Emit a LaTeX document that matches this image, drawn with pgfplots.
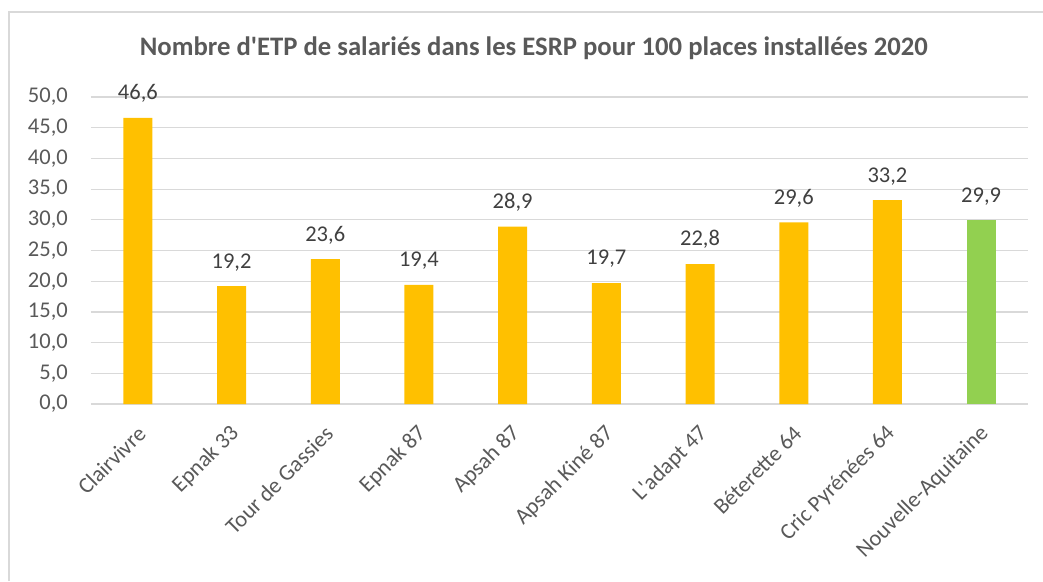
\documentclass[border=0pt]{standalone}
\usepackage{pgfplots}
\pgfplotsset{compat=1.18}
\usetikzlibrary{calc}
\usepackage{fontspec}
\setmainfont{Carlito}
\definecolor{barY}{HTML}{FFC000}
\definecolor{barG}{HTML}{92D050}
\definecolor{txt}{HTML}{595959}
\definecolor{lbl}{HTML}{404040}
\definecolor{grd}{HTML}{D9D9D9}
\begin{document}
\begin{tikzpicture}
  \begin{axis}[
    name=ax, at={(0pt,0pt)}, anchor=origin,
    scale only axis, width=937pt, height=307pt,
    xmin=-0.5, xmax=9.5, ymin=0, ymax=50,
    ybar, bar width=29pt,
    axis x line*=bottom, axis y line*=left,
    x axis line style={grd, line width=1.5pt, -},
    y axis line style={draw=none},
    major tick length=0pt,
    ytick={0,5,...,50},
    ymajorgrids, grid style={grd, line width=1.2pt},
    xtick={0,...,9},
    xticklabels={Clairvivre, Epnak 33, Tour de Gassies, Epnak 87, Apsah 87,
      Apsah Kiné 87, L\textquotesingle adapt 47, Béterette 64, Cric Pyrénées 64, Nouvelle-Aquitaine},
    /pgf/number format/.cd, fixed, fixed zerofill, precision=1, use comma, assume math mode=true,
    /pgfplots/.cd,
    yticklabel style={txt, font=\fontsize{22.5}{26}\selectfont, anchor=east, inner sep=0pt, xshift=-23pt},
    xticklabel style={txt, font=\fontsize{22.5}{26}\selectfont, inner sep=0pt, xshift=4pt, yshift=-26pt, rotate=45, anchor=east},
    nodes near coords,
    every node near coord/.append style={lbl, font=\fontsize{22.5}{26}\selectfont, inner sep=0pt, yshift=15pt},
  ]
    \addplot[fill=barY, draw=none, bar shift=0pt] coordinates {
      (0,46.6) (1,19.2) (2,23.6) (3,19.4) (4,28.9)
      (5,19.7) (6,22.8) (7,29.6) (8,33.2)
    };
    \addplot[fill=barG, draw=none, bar shift=0pt] coordinates {
      (9,29.9)
    };
  \end{axis}
  % everything else placed relative to the data origin (137.85px, 404px in the reference)
  \coordinate (O) at (ax.origin);
  \draw[grd, line width=1.5pt] ($(O)+(-128.85pt,-177pt)$) -- ($(O)+(-128.85pt,392pt)$) -- ($(O)+(905.15pt,392pt)$);
  \node[txt, font=\fontsize{26.7}{30}\selectfont\bfseries] at ($(O)+(396pt,356pt)$)
    {Nombre d\textquotesingle ETP de salariés dans les ESRP pour 100 places installées 2020};
  \pgfresetboundingbox
  \useasboundingbox ($(O)+(-137.85pt,-177pt)$) rectangle ($(O)+(905.15pt,404pt)$);
\end{tikzpicture}
\end{document}
